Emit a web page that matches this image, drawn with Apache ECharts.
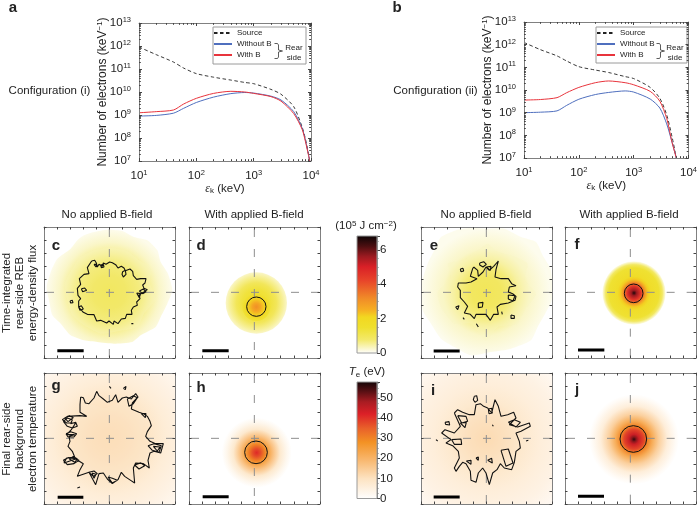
<!DOCTYPE html>
<html>
<head>
<meta charset="utf-8">
<title>Rear-side electrons</title>
<script src="https://cdn.jsdelivr.net/npm/echarts@6/dist/echarts.min.js"></script>
<style>
	html, body { margin: 0; padding: 0; background: #fff; }
	#main { width: 700px; height: 505px; }
</style>
</head>
<body>
<div id="main"></div>
<script>
// spectra, a
const energyA = [10, 20, 40, 60, 100, 200, 400, 700, 1000, 2000, 3000, 5000, 7000, 8000, 9000, 9500];
const sourceA = [9e11, 4.2e11, 2e11, 1.1e11, 6.3e10, 4.4e10, 3.3e10, 2.6e10, 2.3e10, 1.3e10, 8e9, 2.3e9, 3e8, 9e7, 2.2e7, 1e7];
const withoutA = [9e8, 9.6e8, 1.2e9, 1.95e9, 3.5e9, 6e9, 8.5e9, 9.5e9, 9e9, 6.6e9, 4.5e9, 1.4e9, 2.7e8, 8e7, 2e7, 1e7];
const withA = [1.25e9, 1.4e9, 1.65e9, 3e9, 5.3e9, 8.7e9, 1.07e10, 1e10, 8.7e9, 6.3e9, 4e9, 1.15e9, 2.4e8, 7e7, 1.9e7, 1e7];

// spectra, b
const energyB = [10, 20, 40, 60, 100, 200, 350, 700, 1000, 2000, 3000, 4000, 5000, 6000];
const sourceB = [1.25e12, 6e11, 3.2e11, 1.9e11, 1.07e11, 7.6e10, 5.9e10, 3.9e10, 3.2e10, 1.3e10, 4.3e9, 8e8, 8.7e7, 1e7];
const withoutB = [1e9, 1.05e9, 1.2e9, 2.1e9, 3.9e9, 6.3e9, 7.8e9, 9.1e9, 8.1e9, 4e9, 1.6e9, 3.2e8, 5e7, 1e7];
const withB = [3.6e9, 3.8e9, 4.6e9, 7.6e9, 1.3e10, 2.1e10, 2.5e10, 2.1e10, 1.7e10, 8.7e9, 3.2e9, 5.6e8, 5e7, 1e7];

// minor ticks of the log axes
const minorEnergy = [20, 30, 40, 50, 60, 70, 80, 90, 200, 300, 400, 500, 600, 700, 800, 900, 2000, 3000, 4000, 5000, 6000, 7000, 8000, 9000];
const minorCount = [2e7, 3e7, 4e7, 5e7, 6e7, 7e7, 8e7, 9e7, 2e8, 3e8, 4e8, 5e8, 6e8, 7e8, 8e8, 9e8, 2e9, 3e9, 4e9, 5e9, 6e9, 7e9, 8e9, 9e9, 2e10, 3e10, 4e10, 5e10, 6e10, 7e10, 8e10, 9e10, 2e11, 3e11, 4e11, 5e11, 6e11, 7e11, 8e11, 9e11, 2e12, 3e12, 4e12, 5e12, 6e12, 7e12, 8e12, 9e12];

// colour bars [value, colour]
const fluxColors = [[0, '#ffffff'], [0.3, '#faf6c8'], [0.8, '#f3e96a'], [1.5, '#efe02e'], [2.1, '#f2d820'], [2.5, '#f6b023'], [3.2, '#f08a28'], [4.2, '#e8452a'], [5, '#d92027'], [5.6, '#9b1a20'], [6.2, '#4a0e10'], [6.8, '#0a0405']];
const tempColors = [[0, '#ffffff'], [10, '#fde3c2'], [20, '#f8b468'], [28, '#f39224'], [35, '#e9602a'], [42, '#dc2027'], [48, '#a81c22'], [53, '#5a1014'], [58, '#120506']];
const fluxMax = 6.8;
const tempMax = 58;

// map levels. panels use the crop scale of the picture, 0..393 both ways, y down
const panelSpan = 393;
const panelStep = 39.3;

// radial profiles [radius, value]
const profileC = [[0, 1.4], [50, 1.25], [90, 0.9], [120, 0.55], [150, 0.3], [185, 0.12]];
const profileE = [[0, 1.5], [45, 1.4], [70, 1.05], [100, 0.55], [130, 0.3], [190, 0.1]];
const profileG = [[0, 12], [60, 11], [120, 9], [170, 6.5], [230, 4.5], [280, 2.5]];
const profileI = [[0, 13], [60, 11], [110, 8], [160, 6], [220, 4.5], [280, 2]];
const profileD = [[0, 1.55], [40, 1.35], [60, 1.0], [80, 0.55], [92, 0.3]];
const profileDHot = [[0, 3.1], [12, 2.7], [24, 2.2], [34, 1.7], [42, 1.4]];
const profileF = [[0, 6.6], [8, 5.6], [20, 4.6], [28, 3.6], [34, 2.8], [42, 2.2], [50, 1.7], [75, 1.45], [85, 0.9], [95, 0.1]];
const profileH = [[0, 41], [12, 37], [25, 30], [35, 24], [50, 17], [70, 8], [90, 3], [105, 0]];
const profileJ = [[0, 56], [7, 50], [15, 44], [30, 38], [40, 30], [55, 22], [75, 14], [100, 6], [125, 1.5], [135, 0]];

// outer edges of the diffuse maps
const fullPanel = [[0, 0], [393, 0], [393, 393], [0, 393]];
const edgeC = [[120, 25], [150, 15], [190, 8], [235, 12], [270, 30], [310, 40], [340, 70], [350, 105], [372, 140], [385, 190], [370, 230], [350, 270], [335, 300], [290, 325], [265, 345], [210, 350], [160, 345], [120, 340], [80, 325], [50, 290], [25, 265], [15, 220], [8, 180], [22, 130], [40, 95], [80, 65], [100, 40]];
const edgeE = [[60, 30], [110, 8], [150, 2], [200, 5], [250, 5], [300, 30], [345, 45], [365, 85], [390, 130], [392, 220], [370, 265], [350, 300], [330, 340], [270, 365], [210, 375], [150, 385], [100, 360], [60, 335], [30, 290], [5, 250], [2, 170], [20, 110], [40, 70]];
const midC = [[110, 90], [150, 70], [200, 62], [250, 72], [285, 100], [320, 125], [318, 170], [335, 215], [300, 260], [280, 300], [225, 312], [170, 320], [120, 295], [85, 265], [70, 220], [62, 170], [85, 125]];
const midE = [[130, 100], [170, 70], [200, 50], [230, 75], [270, 85], [320, 110], [310, 160], [345, 200], [310, 250], [290, 290], [230, 300], [195, 340], [150, 290], [100, 290], [60, 240], [50, 195], [90, 150], [80, 110]];
const midG = [[120, 90], [180, 105], [250, 85], [300, 140], [290, 200], [330, 250], [270, 300], [200, 310], [130, 300], [90, 250], [100, 190], [75, 140]];
const midI = [[130, 110], [190, 100], [250, 120], [285, 170], [290, 230], [260, 280], [200, 300], [140, 280], [110, 230], [90, 180]];
const midFlux = 0.35;
const midTemp = 8;

// contours, ring by ring
const contourC = [
	[[143, 102], [152, 100], [157, 108], [160, 120], [165, 112], [175, 118], [178, 108], [186, 112], [197, 105], [205, 107], [215, 113], [222, 123], [232, 118], [240, 123], [244, 131], [258, 126], [266, 133], [268, 146], [278, 157], [290, 155], [306, 155], [303, 168], [296, 174], [300, 184], [310, 188], [298, 196], [285, 204], [288, 215], [278, 225], [280, 235], [268, 240], [262, 250], [264, 262], [248, 262], [244, 274], [232, 276], [222, 290], [210, 282], [208, 292], [195, 282], [188, 288], [170, 280], [158, 282], [150, 263], [130, 262], [118, 256], [104, 240], [104, 222], [110, 215], [102, 205], [100, 184], [110, 172], [106, 155], [120, 142], [135, 140], [130, 122], [143, 102]],
	[[112, 185], [122, 183], [128, 190], [116, 194], [112, 185]],
	[[78, 222], [85, 220], [87, 227], [80, 228], [78, 222]],
	[[236, 134], [244, 130], [246, 142], [238, 150], [234, 142], [236, 134]],
	[[286, 192], [298, 186], [306, 194], [296, 200], [286, 192]],
	[[262, 290], [268, 290], [266, 294], [262, 290]],
	[[150, 112], [158, 112], [156, 120], [150, 112]],
	[[170, 114], [178, 112], [180, 120], [172, 122], [170, 114]],
	[[104, 240], [112, 236], [118, 246], [108, 250], [104, 240]],
	[[278, 198], [290, 200], [286, 212], [278, 198]]
];
const contourG = [
	[[110, 72], [118, 74], [124, 90], [135, 92], [150, 75], [158, 55], [165, 68], [178, 78], [190, 88], [205, 82], [215, 65], [222, 88], [235, 75], [247, 72], [262, 78], [275, 62], [282, 72], [265, 90], [262, 108], [285, 118], [298, 122], [310, 130], [318, 145], [322, 158], [310, 176], [305, 190], [318, 205], [335, 212], [358, 212], [350, 240], [330, 235], [318, 240], [312, 262], [316, 285], [298, 272], [275, 270], [268, 285], [272, 330], [260, 322], [242, 310], [232, 298], [222, 320], [205, 332], [190, 318], [178, 300], [165, 302], [155, 335], [135, 298], [122, 302], [100, 310], [108, 290], [118, 272], [95, 258], [60, 270], [68, 255], [92, 252], [85, 235], [72, 220], [78, 205], [75, 190], [92, 185], [68, 185], [82, 170], [95, 150], [68, 150], [55, 140], [70, 130], [108, 128], [128, 130], [108, 118], [108, 95], [110, 72]],
	[[58, 145], [70, 135], [85, 140], [80, 152], [95, 148], [100, 160], [85, 165], [70, 160], [58, 145]],
	[[62, 135], [76, 128], [88, 134], [72, 146], [62, 135]],
	[[66, 182], [80, 176], [98, 182], [90, 192], [72, 192], [66, 182]],
	[[58, 262], [72, 254], [90, 256], [105, 262], [90, 272], [70, 275], [58, 262]],
	[[76, 258], [88, 250], [100, 258], [92, 268], [76, 258]],
	[[135, 298], [150, 294], [160, 302], [148, 310], [135, 298]],
	[[144, 300], [156, 304], [150, 316], [144, 300]],
	[[192, 312], [205, 316], [220, 322], [205, 330], [192, 312]],
	[[272, 276], [290, 270], [302, 278], [285, 288], [272, 276]],
	[[312, 218], [330, 212], [352, 218], [345, 238], [325, 232], [312, 218]],
	[[328, 220], [348, 222], [340, 234], [328, 220]],
	[[250, 78], [268, 68], [280, 74], [268, 92], [255, 100], [250, 78]],
	[[292, 122], [306, 122], [304, 134], [292, 122]],
	[[196, 40], [201, 36], [201, 46], [196, 40]],
	[[238, 46], [246, 40], [244, 50], [238, 46]],
	[[100, 345], [108, 342], [104, 348], [100, 345]]
];
const contourE = [
	[[158, 120], [170, 130], [172, 148], [186, 135], [195, 120], [205, 130], [218, 118], [232, 102], [238, 105], [225, 128], [222, 150], [240, 155], [262, 155], [272, 170], [285, 176], [265, 180], [262, 195], [275, 200], [285, 208], [282, 220], [262, 228], [238, 232], [228, 240], [232, 262], [218, 262], [208, 280], [195, 262], [175, 262], [165, 262], [160, 275], [148, 262], [130, 258], [140, 238], [130, 225], [118, 212], [118, 190], [110, 180], [112, 168], [135, 168], [150, 165], [168, 155], [148, 148], [155, 125], [158, 120]],
	[[176, 108], [188, 104], [196, 112], [186, 120], [176, 114], [176, 108]],
	[[118, 126], [126, 124], [128, 132], [120, 134], [118, 126]],
	[[104, 240], [114, 236], [120, 242], [110, 248], [104, 240]],
	[[166, 290], [172, 290], [172, 300], [166, 300], [166, 290]],
	[[270, 264], [280, 266], [280, 274], [270, 274], [270, 264]],
	[[172, 228], [186, 226], [184, 240], [172, 242], [172, 228]],
	[[262, 204], [282, 206], [276, 222], [262, 216], [262, 204]],
	[[196, 120], [210, 118], [208, 130], [196, 120]],
	[[242, 254], [248, 256], [244, 262], [242, 254]],
	[[126, 272], [132, 272], [130, 277], [126, 272]]
];
const contourI = [
	[[100, 120], [110, 110], [125, 118], [145, 125], [160, 125], [165, 95], [178, 92], [188, 100], [200, 105], [212, 120], [222, 80], [232, 100], [240, 130], [260, 125], [278, 118], [285, 135], [265, 155], [290, 162], [325, 150], [328, 160], [300, 175], [285, 180], [295, 205], [298, 225], [285, 235], [280, 268], [272, 290], [250, 285], [238, 272], [228, 290], [215, 300], [205, 335], [195, 300], [185, 285], [172, 300], [165, 328], [150, 322], [148, 295], [135, 272], [125, 268], [115, 280], [105, 295], [100, 285], [115, 255], [112, 235], [95, 218], [75, 210], [90, 200], [62, 180], [72, 170], [100, 180], [118, 160], [100, 120]],
	[[160, 70], [167, 68], [170, 82], [162, 88], [157, 80], [160, 70]],
	[[202, 108], [212, 106], [214, 120], [204, 122], [202, 108]],
	[[110, 128], [135, 130], [140, 145], [122, 150], [110, 128]],
	[[118, 150], [136, 148], [132, 164], [118, 150]],
	[[262, 148], [280, 140], [298, 148], [285, 162], [262, 148]],
	[[72, 148], [84, 146], [86, 156], [74, 154], [72, 148]],
	[[92, 200], [120, 198], [122, 214], [100, 214], [92, 200]],
	[[136, 264], [150, 262], [150, 274], [136, 264]],
	[[200, 262], [212, 256], [214, 270], [200, 262]],
	[[240, 232], [262, 228], [276, 270], [255, 280], [240, 232]],
	[[165, 255], [172, 252], [172, 262], [165, 255]],
	[[45, 200], [50, 198], [50, 204], [45, 200]],
	[[315, 204], [322, 202], [322, 208], [315, 204]],
	[[214, 155], [218, 153], [217, 160], [214, 155]]
];

// circles [x, y, radius]
const discD = [202, 228, 92];
const discDHot = [202, 240, 42];
const discF = [207, 198, 95];
const discH = [203, 239, 105];
const discJ = [207, 199, 135];
const ringD = [202, 239, 29];
const ringF = [206, 199, 28];
const ringH = [201, 238, 34];
const ringJ = [205, 198, 40];

// scale bars
const barC = [[40, 371], [119, 371]];
const barD = [[40, 371], [119, 371]];
const barE = [[38, 372], [116, 372]];
const barF = [[39, 369], [118, 369]];
const barG = [[41, 373], [118, 373]];
const barH = [[41, 371], [119, 371]];
const barI = [[38, 372], [116, 372]];
const barJ = [[39, 370], [117, 370]];

// crosshairs
const crossFull = [[196, 0], [196, 393], ['-', '-'], [0, 196], [393, 196]];
const crossLow = [[196, 0], [196, 210], ['-', '-'], [196, 279], [196, 393], ['-', '-'], [0, 196], [393, 196]];
const crossHot = [[196, 0], [196, 170], ['-', '-'], [196, 239], [196, 393], ['-', '-'], [0, 196], [170, 196], ['-', '-'], [239, 196], [393, 196]];

const FONT = '"Liberation Sans", Arial, sans-serif';
const DARK = '#222';
const FRAME = '#808080';
const BLUE = '#4f6fbe';
const RED = '#e8343c';

const xAxes = [];
const yAxes = [];
const grids = [];
const series = [];
const graphics = [];

function colorAt(v, stops) {
	if (v <= stops[0][0]) return stops[0][1];
	for (let i = 1; i < stops.length; i++) {
		if (v <= stops[i][0]) {
			const t = (v - stops[i - 1][0]) / (stops[i][0] - stops[i - 1][0]);
			return echarts.color.lerp(t, [stops[i - 1][1], stops[i][1]]);
		}
	}
	return stops[stops.length - 1][1];
}

function radialStops(profile, stops) {
	const rMax = profile[profile.length - 1][0];
	return profile.map(function (p) {
		return { offset: p[0] / rMax, color: colorAt(p[1], stops) };
	});
}

function addText(text, x, y, font, extra) {
	graphics.push({
		type: 'text',
		x: x,
		y: y,
		rotation: extra && extra.rotation ? extra.rotation : 0,
		silent: true,
		z: 20,
		style: Object.assign({
			text: text,
			font: font,
			fill: '#222',
			align: 'center',
			verticalAlign: 'middle'
		}, extra && extra.style)
	});
}

/* adds one grid with its mirror axes, returns the index of the lower left pair */
function addGrid(box, xBase, yBase, xMirror, yMirror) {
	const g = grids.length;
	grids.push({ left: box[0], top: box[1], width: box[2], height: box[3], containLabel: false });
	const xi = xAxes.length;
	const yi = yAxes.length;
	xAxes.push(Object.assign({ gridIndex: g, position: 'bottom', z: 10 }, xBase));
	xAxes.push(Object.assign({ gridIndex: g, position: 'top', z: 10 }, xMirror));
	yAxes.push(Object.assign({ gridIndex: g, position: 'left', z: 10 }, yBase));
	yAxes.push(Object.assign({ gridIndex: g, position: 'right', z: 10 }, yMirror));
	return { x: xi, y: yi, grid: g };
}

/* ------------- spectra ------------- */
function logLabel(v) {
	return '10{s|' + Math.round(Math.log10(v)) + '}';
}

const labelRich = {
	s: { fontSize: 7.5, fontFamily: FONT, color: DARK, verticalAlign: 'bottom', padding: [0, 0, 6, 0] }
};

function logAxis(min, max, withLabels, extra) {
	return Object.assign({
		type: 'log',
		logBase: 10,
		min: min,
		max: max,
		axisLine: { onZero: false, lineStyle: { color: FRAME, width: 1 } },
		axisTick: { inside: true, length: 3, lineStyle: { color: '#444' } },
		splitLine: { show: false },
		axisLabel: {
			show: withLabels,
			fontFamily: FONT,
			fontSize: 11.5,
			color: DARK,
			formatter: logLabel,
			rich: labelRich
		}
	}, extra);
}

/* short ticks between the decades. a plain axis over the exponents, it only carries ticks */
function minorAxis(g, position, min, max, values) {
	return {
		type: 'value',
		gridIndex: g,
		position: position,
		z: 10,
		min: Math.log10(min),
		max: Math.log10(max),
		axisLine: { show: false, onZero: false },
		axisLabel: { show: false },
		splitLine: { show: false },
		axisTick: {
			inside: true,
			length: 1.8,
			customValues: values.map(function (v) { return Math.log10(v); }),
			lineStyle: { color: '#444' }
		}
	};
}

function addSpectrum(box, energy, source, without, withField, brace) {
	const xName = logAxis(10, 1e4, true, {
		name: '{i|ε}{k|k}{n| (keV)}',
		nameLocation: 'middle',
		nameGap: 21,
		nameMoveOverlap: false,
		nameTextStyle: {
			fontFamily: FONT,
			fontSize: 11.5,
			color: DARK,
			rich: {
				i: { fontFamily: '"Liberation Serif", serif', fontStyle: 'italic', fontSize: 12, color: DARK },
				k: { fontFamily: FONT, fontSize: 8, color: DARK, verticalAlign: 'top', padding: [5, 0, 0, 0] },
				n: { fontFamily: FONT, fontSize: 11.5, color: DARK }
			}
		}
	});
	const yName = logAxis(1e7, 1e13, true, {
		name: '{n|Number of electrons (keV}{s|−1}{n|)}',
		nameLocation: 'middle',
		nameGap: 30,
		nameMoveOverlap: false,
		nameTextStyle: {
			fontFamily: FONT,
			fontSize: 11.5,
			color: DARK,
			rich: {
				n: { fontFamily: FONT, fontSize: 12, color: DARK },
				s: { fontFamily: FONT, fontSize: 8, color: DARK, verticalAlign: 'bottom', padding: [0, 0, 5, 0] }
			}
		}
	});
	const a = addGrid(box, xName, yName, logAxis(10, 1e4, false), logAxis(1e7, 1e13, false));
	xAxes.push(minorAxis(a.grid, 'bottom', 10, 1e4, minorEnergy));
	xAxes.push(minorAxis(a.grid, 'top', 10, 1e4, minorEnergy));
	yAxes.push(minorAxis(a.grid, 'left', 1e7, 1e13, minorCount));
	yAxes.push(minorAxis(a.grid, 'right', 1e7, 1e13, minorCount));
	const pairs = function (ys) {
		return energy.map(function (e, i) { return [e, ys[i]]; });
	};
	const lineOpts = { type: 'line', xAxisIndex: a.x, yAxisIndex: a.y, showSymbol: false, symbol: 'none', smooth: 0.25, clip: true, silent: true };
	series.push(Object.assign({}, lineOpts, { name: 'Source', data: pairs(source), lineStyle: { color: '#222', width: 0.9, type: [3.5, 2.5] }, itemStyle: { color: '#222' } }));
	series.push(Object.assign({}, lineOpts, { name: 'Without B', data: pairs(without), lineStyle: { color: BLUE, width: 1 }, itemStyle: { color: BLUE } }));
	series.push(Object.assign({}, lineOpts, { name: 'With B', data: pairs(withField), lineStyle: { color: RED, width: 1 }, itemStyle: { color: RED } }));

	// legend frame and brace
	graphics.push({
		type: 'rect',
		silent: true,
		z: 5,
		shape: { x: brace.frame[0], y: brace.frame[1], width: brace.frame[2], height: brace.frame[3] },
		style: { fill: '#fff', stroke: '#9a9a9a', lineWidth: 1 }
	});
	const bx = brace.x;
	graphics.push({
		type: 'polyline',
		silent: true,
		z: 20,
		shape: { points: [[bx, 43.5], [bx + 3, 43.5], [bx + 4, 45], [bx + 4, 50], [bx + 8, 51], [bx + 4, 52], [bx + 4, 57], [bx + 3, 58.5], [bx, 58.5]] },
		style: { fill: null, stroke: '#333', lineWidth: 0.8 }
	});
	addText('Rear', brace.text, 47.5, '8px ' + FONT);
	addText('side', brace.text, 57.5, '8px ' + FONT);
}

addSpectrum([139, 23, 172, 138], energyA, sourceA, withoutA, withA, { frame: [213, 27, 93, 37], x: 274.5, text: 294 });
addSpectrum([524, 22, 167, 136], energyB, sourceB, withoutB, withB, { frame: [596, 27, 91, 36], x: 656.5, text: 675 });

const legendBase = {
	orient: 'vertical',
	selectedMode: false,
	itemWidth: 18,
	itemHeight: 8,
	itemGap: 3,
	padding: 0,
	z: 30,
	itemStyle: { opacity: 0 },
	textStyle: { fontFamily: FONT, fontSize: 8, color: DARK },
	data: ['Source', 'Without B', 'With B']
};

/* ------------- maps ------------- */
function panelAxis(extra) {
	return Object.assign({
		type: 'value',
		min: 0,
		max: panelSpan,
		interval: panelStep,
		axisLine: { onZero: false, lineStyle: { color: FRAME, width: 1 } },
		axisTick: { inside: true, length: 2.5, lineStyle: { color: '#444' } },
		axisLabel: { show: false },
		splitLine: { show: false }
	}, extra);
}

function discSeries(a, disc, profile, stops, z) {
	series.push({
		type: 'custom',
		xAxisIndex: a.x,
		yAxisIndex: a.y,
		coordinateSystem: 'cartesian2d',
		clip: true,
		silent: true,
		z: z,
		data: [disc],
		renderItem: function (params, api) {
			const c = api.coord([api.value(0), api.value(1)]);
			const r = api.size([api.value(2), 0])[0];
			return {
				type: 'circle',
				shape: { cx: c[0], cy: c[1], r: r },
				style: { fill: new echarts.graphic.RadialGradient(0.5, 0.5, 0.5, radialStops(profile, stops)) }
			};
		}
	});
}

function blobSeries(a, edge, profile, stops, z) {
	series.push({
		type: 'custom',
		xAxisIndex: a.x,
		yAxisIndex: a.y,
		coordinateSystem: 'cartesian2d',
		clip: true,
		silent: true,
		z: z,
		data: edge,
		renderItem: function (params, api) {
			if (params.dataIndex) return null;
			const c = api.coord([196, 196]);
			const r = api.size([profile[profile.length - 1][0], 0])[0];
			const pts = edge.map(function (p) { return api.coord(p); });
			return {
				type: 'polygon',
				shape: { points: pts, smooth: edge.length > 4 ? 0.2 : 0 },
				style: { fill: new echarts.graphic.RadialGradient(c[0], c[1], r, radialStops(profile, stops), true) }
			};
		}
	});
}

/* a faint flat patch, breaks up the round look of the diffuse maps */
function patchSeries(a, edge, color, z) {
	series.push({
		type: 'custom',
		xAxisIndex: a.x,
		yAxisIndex: a.y,
		coordinateSystem: 'cartesian2d',
		clip: true,
		silent: true,
		z: z,
		data: edge,
		renderItem: function (params, api) {
			if (params.dataIndex) return null;
			const pts = edge.map(function (p) { return api.coord(p); });
			return {
				type: 'polygon',
				shape: { points: pts, smooth: 0.2 },
				style: { fill: color, opacity: 0.3 }
			};
		}
	});
}

function ringSeries(a, ring) {
	series.push({
		type: 'custom',
		xAxisIndex: a.x,
		yAxisIndex: a.y,
		coordinateSystem: 'cartesian2d',
		clip: true,
		silent: true,
		z: 6,
		data: [ring],
		renderItem: function (params, api) {
			const c = api.coord([api.value(0), api.value(1)]);
			const r = api.size([api.value(2), 0])[0];
			return {
				type: 'circle',
				shape: { cx: c[0], cy: c[1], r: r },
				style: { fill: 'none', stroke: '#111', lineWidth: 1 }
			};
		}
	});
}

function contourSeries(a, rings) {
	let data = [];
	rings.forEach(function (ring, i) {
		if (i) data.push(['-', '-']);
		data = data.concat(ring);
	});
	series.push({
		type: 'line',
		xAxisIndex: a.x,
		yAxisIndex: a.y,
		data: data,
		symbol: 'none',
		showSymbol: false,
		silent: true,
		z: 6,
		connectNulls: false,
		lineStyle: { color: '#111', width: 1.1 }
	});
}

function addPanel(box, bar, cross) {
	const a = addGrid(box,
		panelAxis(),
		panelAxis({ inverse: true }),
		panelAxis(),
		panelAxis({ inverse: true }));
	// crosshair and scale bar
	series.push({
		type: 'line',
		xAxisIndex: a.x,
		yAxisIndex: a.y,
		data: cross,
		symbol: 'none',
		silent: true,
		z: 5,
		lineStyle: { color: '#8f8f8f', width: 1, type: [8, 12], dashOffset: 18 }
	});
	series.push({
		type: 'line',
		xAxisIndex: a.x,
		yAxisIndex: a.y,
		data: bar,
		symbol: 'none',
		silent: true,
		z: 7,
		lineStyle: { color: '#000', width: 3, cap: 'butt' }
	});
	return a;
}

const boxC = [44, 227, 131, 131];
const boxD = [189, 227, 131, 131];
const boxE = [421, 227, 131, 131];
const boxF = [565, 227, 131, 131];
const boxG = [44, 373, 131, 131];
const boxH = [189, 373, 131, 131];
const boxI = [421, 373, 131, 131];
const boxJ = [565, 373, 131, 131];

const panelC = addPanel(boxC, barC, crossFull);
blobSeries(panelC, edgeC, profileC, fluxColors, 2);
patchSeries(panelC, midC, colorAt(midFlux, fluxColors), 3);
contourSeries(panelC, contourC);

const panelD = addPanel(boxD, barD, crossLow);
discSeries(panelD, discD, profileD, fluxColors, 2);
discSeries(panelD, discDHot, profileDHot, fluxColors, 3);
ringSeries(panelD, ringD);

const panelE = addPanel(boxE, barE, crossFull);
blobSeries(panelE, edgeE, profileE, fluxColors, 2);
patchSeries(panelE, midE, colorAt(midFlux, fluxColors), 3);
contourSeries(panelE, contourE);

const panelF = addPanel(boxF, barF, crossHot);
discSeries(panelF, discF, profileF, fluxColors, 2);
ringSeries(panelF, ringF);

const panelG = addPanel(boxG, barG, crossFull);
blobSeries(panelG, fullPanel, profileG, tempColors, 2);
patchSeries(panelG, midG, colorAt(midTemp, tempColors), 3);
contourSeries(panelG, contourG);

const panelH = addPanel(boxH, barH, crossLow);
discSeries(panelH, discH, profileH, tempColors, 2);
ringSeries(panelH, ringH);

const panelI = addPanel(boxI, barI, crossFull);
blobSeries(panelI, fullPanel, profileI, tempColors, 2);
patchSeries(panelI, midI, colorAt(midTemp, tempColors), 3);
contourSeries(panelI, contourI);

const panelJ = addPanel(boxJ, barJ, crossHot);
discSeries(panelJ, discJ, profileJ, tempColors, 2);
ringSeries(panelJ, ringJ);

/* ------------- colour bars ------------- */
function addColorBar(box, max, interval, stops) {
	const g = grids.length;
	grids.push({ left: box[0], top: box[1], width: box[2], height: box[3] });
	const xi = xAxes.length;
	const yi = yAxes.length;
	xAxes.push({ gridIndex: g, type: 'value', min: 0, max: 1, show: false });
	yAxes.push({
		gridIndex: g,
		type: 'value',
		position: 'right',
		min: 0,
		max: max,
		interval: interval,
		axisLine: { onZero: false, lineStyle: { color: FRAME } },
		axisTick: { length: 3, lineStyle: { color: '#444' } },
		minorTick: { show: true, splitNumber: 4, length: 1.5, lineStyle: { color: '#777' } },
		axisLabel: { fontFamily: FONT, fontSize: 11.5, color: DARK, margin: 3, showMaxLabel: false },
		splitLine: { show: false }
	});
	series.push({
		type: 'custom',
		xAxisIndex: xi,
		yAxisIndex: yi,
		coordinateSystem: 'cartesian2d',
		silent: true,
		data: [[0, 0, 1, max]],
		renderItem: function (params, api) {
			const p0 = api.coord([api.value(0), api.value(1)]);
			const p1 = api.coord([api.value(2), api.value(3)]);
			return {
				type: 'rect',
				shape: { x: p0[0], y: p1[1], width: p1[0] - p0[0], height: p0[1] - p1[1] },
				style: {
					fill: new echarts.graphic.LinearGradient(0, 1, 0, 0, stops.map(function (s) {
						return { offset: s[0] / max, color: s[1] };
					})),
					stroke: '#9a9a9a',
					lineWidth: 1
				}
			};
		}
	});
}
addColorBar([357, 236, 20, 117], fluxMax, 2, fluxColors);
addColorBar([357, 382, 20, 116.5], tempMax, 10, tempColors);

/* ------------- texts ------------- */
const bigFont = '11.5px ' + FONT;
const letterFont = 'bold 15px ' + FONT;
addText('a', 13, 8, letterFont);
addText('b', 397, 8, letterFont);
addText('Configuration (i)', 49.5, 90.5, bigFont);
addText('Configuration (ii)', 435.5, 90.5, bigFont);

[['No applied B-field', 107], ['With applied B-field', 254], ['No applied B-field', 486], ['With applied B-field', 629]].forEach(function (t) {
	addText(t[0], t[1], 215, bigFont);
});

[['c', 56, 246], ['d', 201, 246], ['e', 434, 246], ['f', 577, 245],
	['g', 56, 386], ['h', 201, 388], ['i', 433, 391], ['j', 577, 390]].forEach(function (t) {
	addText(t[0], t[1], t[2], letterFont);
});

[['Time-integrated', 7, 293], ['rear-side REB', 20, 293], ['energy-density flux', 33, 293],
	['Final rear-side', 7, 439], ['background', 20, 439], ['electron temperature', 33, 439]].forEach(function (t) {
	addText(t[0], t[1], t[2], bigFont, { rotation: Math.PI / 2 });
});

addText('(10{s|5} J cm{s|−2})', 366, 226, bigFont, {
	style: { rich: { s: { font: '8px ' + FONT, fill: '#222', verticalAlign: 'bottom', padding: [0, 0, 5, 0] } } }
});
addText('{i|T}{e|e} (eV)', 367, 372, bigFont, {
	style: { rich: {
		i: { font: 'italic 11.5px ' + FONT, fill: '#222' },
		e: { font: '8px ' + FONT, fill: '#222', verticalAlign: 'top', padding: [5, 0, 0, 0] }
	} }
});

const chart = echarts.init(document.getElementById('main'), null, { renderer: 'canvas' });
chart.setOption({
	animation: false,
	backgroundColor: '#fff',
	grid: grids,
	xAxis: xAxes,
	yAxis: yAxes,
	legend: [
		Object.assign({}, legendBase, { left: 213, top: 29 }),
		Object.assign({}, legendBase, { left: 596, top: 29 })
	],
	series: series,
	graphic: graphics
});
</script>
</body>
</html>
